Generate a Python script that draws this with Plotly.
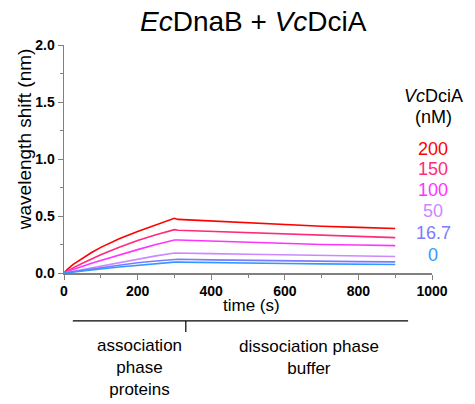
import plotly.graph_objects as go

time_s = [0, 10, 25, 50, 75, 100, 150, 200, 250, 300, 310, 400, 500, 600, 700, 800, 900]
conc_labels = ["200", "150", "100", "50", "16.7", "0"]
shift_200 = [0, 0.035, 0.075, 0.13, 0.18, 0.225, 0.30, 0.365, 0.425, 0.48, 0.47, 0.455, 0.44, 0.425, 0.41, 0.40, 0.39]
shift_150 = [0, 0.02, 0.045, 0.085, 0.125, 0.16, 0.225, 0.285, 0.335, 0.38, 0.375, 0.365, 0.35, 0.34, 0.33, 0.32, 0.31]
shift_100 = [0, 0.015, 0.03, 0.06, 0.085, 0.11, 0.16, 0.205, 0.25, 0.29, 0.29, 0.28, 0.27, 0.26, 0.25, 0.245, 0.24]
shift_50 = [0, 0.006, 0.015, 0.03, 0.048, 0.065, 0.095, 0.125, 0.15, 0.175, 0.175, 0.17, 0.165, 0.16, 0.155, 0.15, 0.145]
shift_16_7 = [0, 0.005, 0.01, 0.02, 0.033, 0.045, 0.068, 0.09, 0.105, 0.12, 0.12, 0.115, 0.11, 0.107, 0.104, 0.10, 0.098]
shift_0 = [0, 0.004, 0.009, 0.018, 0.027, 0.035, 0.052, 0.068, 0.083, 0.095, 0.095, 0.09, 0.087, 0.083, 0.08, 0.078, 0.075]
colors = ["#ff0000", "#ff2a7a", "#ff33ff", "#cc88ff", "#7b7bff", "#3399ff"]
series = [shift_200, shift_150, shift_100, shift_50, shift_16_7, shift_0]

FONT = "Liberation Sans, Arial, sans-serif"
PT, PB = 44.7, 273.0          # pixel top/bottom of plot area
PL, PR = 64.0, 432.0          # pixel left/right of plot area
PH = PB - PT
PW = PR - PL
W, H = 475, 404


def py(pix):
    return (PB - pix) / PH


def px(pix):
    return (pix - PL) / PW


fig = go.Figure()
for lab, ys, c in zip(conc_labels, series, colors):
    fig.add_trace(go.Scatter(x=time_s, y=ys, mode="lines", name=lab,
                             line=dict(color=c, width=1.6), showlegend=False))

tickfont = dict(size=14, family=FONT, weight="bold", color="black")
fig.update_layout(
    width=W, height=H,
    margin=dict(l=PL, r=W - PR, t=PT, b=H - PB, pad=0),
    plot_bgcolor="white", paper_bgcolor="white",
    font=dict(family=FONT, color="black"),
    xaxis=dict(range=[0, 1000], tickvals=[0, 200, 400, 600, 800, 1000], automargin=False,
               showgrid=False, zeroline=False, showline=True, linecolor="#808080", linewidth=1.5,
               ticks="outside", ticklen=5, tickcolor="#808080",
               minor=dict(dtick=100, ticks="outside", ticklen=3, tickcolor="#808080"),
               tickfont=tickfont),
    yaxis=dict(range=[0, 2.0], tickvals=[0, 0.5, 1.0, 1.5, 2.0], automargin=False,
               ticktext=["0.0", "0.5", "1.0", "1.5", "2.0"],
               showgrid=False, zeroline=False, showline=True, linecolor="#808080", linewidth=1.5,
               ticks="outside", ticklen=5, tickcolor="#808080",
               minor=dict(dtick=0.25, ticks="outside", ticklen=3, tickcolor="#808080"),
               tickfont=tickfont),
)

# Title
fig.add_annotation(text="<i>Ec</i>DnaB + <i>Vc</i>DciA", xref="paper", yref="paper",
                   x=px(253), y=py(21), showarrow=False, font=dict(size=28, family=FONT),
                   xanchor="center", yanchor="middle", borderpad=0)

# Axis titles
fig.add_annotation(text="wavelength shift (nm)", xref="paper", yref="paper",
                   x=px(24), y=py(139), textangle=-90, showarrow=False,
                   font=dict(size=19, family=FONT), xanchor="center", yanchor="middle")
fig.add_annotation(text="time (s)", xref="paper", yref="paper",
                   x=px(251), y=py(306), showarrow=False,
                   font=dict(size=17, family=FONT), xanchor="center", yanchor="middle")

# Legend title and entries
LX = px(433)
fig.add_annotation(text="<i>Vc</i>DciA", xref="paper", yref="paper", x=LX, y=py(96),
                   showarrow=False, font=dict(size=18, family=FONT), xanchor="center", yanchor="middle")
fig.add_annotation(text="(nM)", xref="paper", yref="paper", x=LX, y=py(117),
                   showarrow=False, font=dict(size=18, family=FONT), xanchor="center", yanchor="middle")
legend_y = [149, 169, 190, 211, 233, 255]
for lab, c, pyy in zip(conc_labels, colors, legend_y):
    fig.add_annotation(text=lab, xref="paper", yref="paper", x=LX, y=py(pyy), showarrow=False,
                       font=dict(size=18, family=FONT, color=c), xanchor="center", yanchor="middle")

# Phase bar
fig.add_shape(type="line", xref="x", yref="paper", x0=24, x1=935, y0=py(321), y1=py(321),
              line=dict(color="black", width=1.2))
fig.add_shape(type="line", xref="x", yref="paper", x0=331, x1=331, y0=py(321), y1=py(332),
              line=dict(color="black", width=1.2))
fig.add_annotation(text="association<br>phase<br>proteins", xref="x", yref="paper", x=205,
                   y=py(368), showarrow=False, font=dict(size=17, family=FONT),
                   xanchor="center", yanchor="middle")
fig.add_annotation(text="dissociation phase<br>buffer", xref="x", yref="paper", x=667,
                   y=py(358), showarrow=False, font=dict(size=17, family=FONT),
                   xanchor="center", yanchor="middle")

fig.write_html("out.html", config={"displayModeBar": False, "staticPlot": True},
               post_script="document.body.style.margin='0';document.body.style.overflow='hidden';")
